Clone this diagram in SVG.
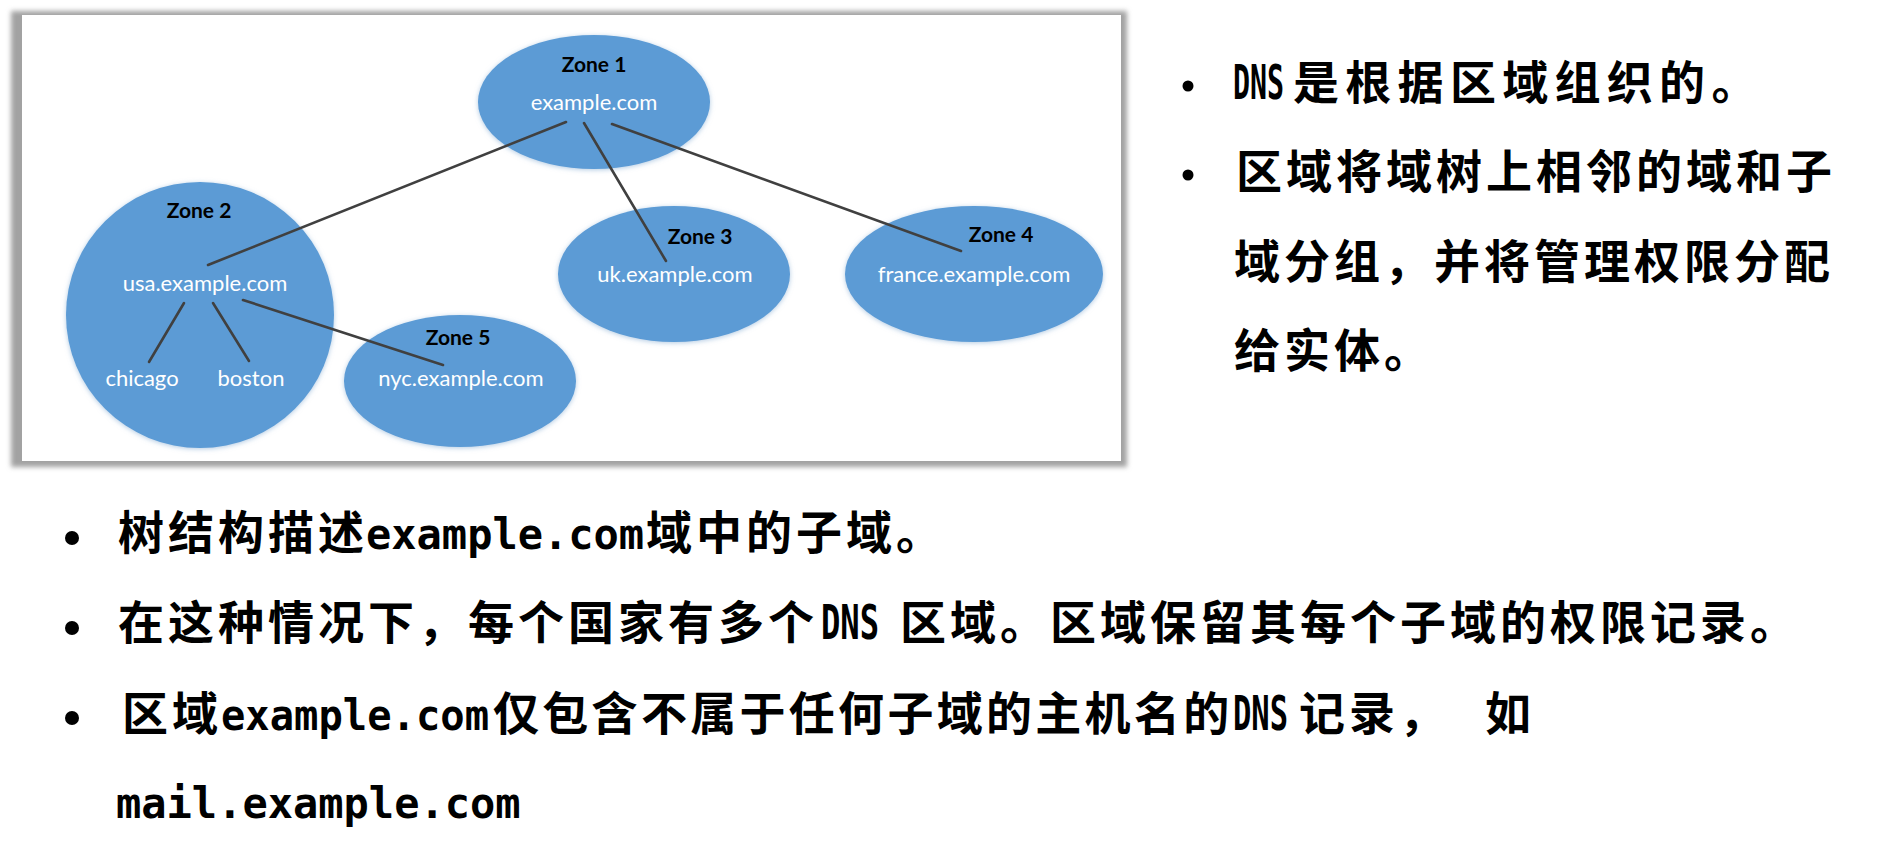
<svg xmlns="http://www.w3.org/2000/svg" width="1886" height="857" viewBox="0 0 1886 857">
<defs>
<filter id="soft" x="-10%" y="-10%" width="120%" height="120%">
<feGaussianBlur in="SourceAlpha" stdDeviation="2.5"/>
<feOffset dx="0" dy="1" result="b"/>
<feFlood flood-color="#7fa8d0" flood-opacity="0.6"/>
<feComposite in2="b" operator="in" result="s"/>
<feMerge><feMergeNode in="s"/><feMergeNode in="SourceGraphic"/></feMerge>
</filter>
<filter id="frameblur" x="-2%" y="-2%" width="104%" height="104%">
<feGaussianBlur stdDeviation="2.5"/>
</filter>
</defs>
<style>
.zone{fill:#5b9bd5;filter:url(#soft)}
.zl{font-family:Lato,"Open Sans",sans-serif;font-weight:bold;font-size:21px;fill:#000;text-anchor:middle}
.dl{font-family:Lato,"Open Sans",sans-serif;font-size:22px;fill:#fff;text-anchor:middle}
.edge{stroke:#404040;stroke-width:2.6;stroke-linecap:round;fill:none}
.tx{font-family:"Noto Sans CJK SC",sans-serif;font-size:46px;font-weight:600;fill:#000;letter-spacing:4px}
.mono{font-family:"DejaVu Sans Mono",monospace;font-size:42px;font-weight:bold;letter-spacing:0}
.caps{font-family:"DejaVu Sans Mono",monospace;font-size:48px;font-weight:bold;letter-spacing:0}
.bul{fill:#000}
</style>
<rect width="1886" height="857" fill="#fff"/>
<g id="frame">
<rect x="11" y="11" width="1116" height="456" fill="#a2a2a2" filter="url(#frameblur)"/>
<rect x="22" y="15" width="1099" height="446" fill="#fff"/>
</g>
<g id="zone1"><ellipse class="zone" cx="594" cy="102" rx="116" ry="67"/><text class="zl" x="594" y="72">Zone 1</text><text class="dl" x="594" y="110">example.com</text></g>
<g id="zone2"><ellipse class="zone" cx="200" cy="315" rx="134" ry="133"/><text class="zl" x="199" y="218">Zone 2</text><text class="dl" x="205" y="291">usa.example.com</text><text class="dl" x="142" y="386">chicago</text><text class="dl" x="251" y="386">boston</text></g>
<g id="zone5"><ellipse class="zone" cx="460" cy="381" rx="116" ry="66"/><text class="zl" x="458" y="345">Zone 5</text><text class="dl" x="461" y="386">nyc.example.com</text></g>
<g id="zone3"><ellipse class="zone" cx="674" cy="274" rx="116" ry="68"/><text class="zl" x="700" y="244">Zone 3</text><text class="dl" x="675" y="282">uk.example.com</text></g>
<g id="zone4"><ellipse class="zone" cx="974" cy="274" rx="129" ry="68"/><text class="zl" x="1001" y="242">Zone 4</text><text class="dl" x="974" y="282">france.example.com</text></g>
<g id="connectors">
<line class="edge" x1="566" y1="122" x2="208" y2="265"/>
<line class="edge" x1="584" y1="123" x2="666" y2="261"/>
<line class="edge" x1="612" y1="124" x2="961" y2="251"/>
<line class="edge" x1="184" y1="303" x2="149" y2="362"/>
<line class="edge" x1="213" y1="303" x2="249" y2="361"/>
<line class="edge" x1="243" y1="300" x2="443" y2="365"/>
</g>
<g id="right-text">
<circle class="bul" cx="1188" cy="86" r="5.5"/>
<text class="caps" transform="translate(1233,99) scale(0.59,1)">DNS</text>
<text class="tx" x="1293" y="99" style="letter-spacing:6.3px">是根据区域组织的。</text>
<circle class="bul" cx="1188" cy="175" r="5.5"/>
<text class="tx" x="1236" y="188">区域将域树上相邻的域和子</text>
<text class="tx" x="1234" y="278">域分组，并将管理权限分配</text>
<text class="tx" x="1234" y="367">给实体。</text>
</g>
<g id="bottom-text">
<circle class="bul" cx="72" cy="538" r="7"/>
<text class="tx" x="118" y="549">树结构描述</text>
<text class="mono" x="366" y="549">example.com</text>
<text class="tx" x="646" y="549">域中的子域。</text>
<circle class="bul" cx="72" cy="628" r="7"/>
<text class="tx" x="118" y="639">在这种情况下，每个国家有多个</text>
<text class="caps" transform="translate(821,639) scale(0.67,1)">DNS</text>
<text class="tx" x="900" y="639">区域。区域保留其每个子域的权限记录。</text>
<circle class="bul" cx="72" cy="718" r="7"/>
<text class="tx" x="122" y="730">区域</text>
<text class="mono" x="221" y="730" textLength="268" lengthAdjust="spacingAndGlyphs">example.com</text>
<text class="tx" x="493" y="730" style="letter-spacing:3.3px">仅包含不属于任何子域的主机名的</text>
<text class="caps" transform="translate(1233,730) scale(0.635,1)">DNS</text>
<text class="tx" x="1299" y="730">记录，</text>
<text class="tx" x="1485" y="730">如</text>
<text class="mono" x="116" y="818">mail.example.com</text>
</g>
</svg>
